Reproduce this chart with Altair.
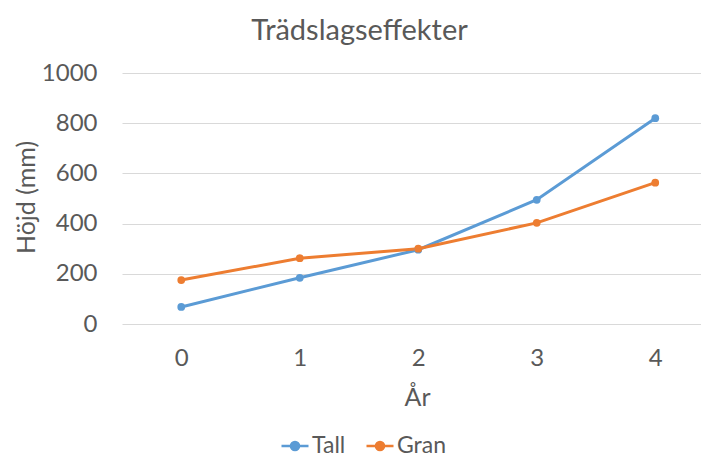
import altair as alt
import pandas as pd

years = [0, 1, 2, 3, 4]
series_names = ["Tall", "Gran"]
tall = [68, 184, 296, 495, 820]
gran = [175, 262, 300, 403, 563]
colors = ["#5B9BD5", "#ED7D31"]
y_ticks = [0, 200, 400, 600, 800, 1000]

rows = []
for name, vals in zip(series_names, [tall, gran]):
    for yr, v in zip(years, vals):
        rows.append({"År": yr, "Höjd": v, "Serie": name})
df = pd.DataFrame(rows)

FONT = "Lato"
GREY = "#595959"
sym_path = "M-1,0H1M-0.3,0A0.3,0.3,0,1,1,0.3,0A0.3,0.3,0,1,1,-0.3,0Z"

color = alt.Color(
    "Serie:N",
    scale=alt.Scale(domain=series_names, range=colors),
    sort=series_names,
    legend=alt.Legend(
        title=None,
        orient="none",
        direction="horizontal",
        legendX=158,
        legendY=358,
        symbolType=sym_path,
        symbolSize=729,
        symbolStrokeWidth=2.5,
        labelFont=FONT,
        labelFontSize=23,
        labelColor=GREY,
        labelOffset=2,
        columnPadding=15,
    ),
)

x = alt.X(
    "År:Q",
    scale=alt.Scale(domain=[-0.5, 4.386], nice=False, zero=False),
    axis=alt.Axis(
        values=years,
        format="d",
        grid=False,
        domain=False,
        ticks=False,
        labelFont=FONT,
        labelFontSize=24,
        labelColor=GREY,
        labelBaseline="middle",
        labelPadding=34,
        title="År",
        titleFont=FONT,
        titleFontSize=25,
        titleFontWeight="normal",
        titleColor=GREY,
        titleX=295,
        titleY=81,
        titleBaseline="alphabetic",
    ),
)

y = alt.Y(
    "Höjd:Q",
    scale=alt.Scale(domain=[0, 1000], nice=False),
    axis=alt.Axis(
        values=y_ticks,
        format="d",
        grid=True,
        gridColor="#D9D9D9",
        gridWidth=1,
        domain=False,
        ticks=False,
        labelFont=FONT,
        labelFontSize=24,
        labelColor=GREY,
        labelPadding=25,
        title="Höjd (mm)",
        titleFont=FONT,
        titleFontSize=25,
        titleFontWeight="normal",
        titleColor=GREY,
        titleAngle=-90,
        titleX=-96,
        titleY=124,
        titleBaseline="middle",
        titleAlign="center",
    ),
)

chart = (
    alt.Chart(df)
    .mark_line(strokeWidth=3, point=alt.OverlayMarkDef(filled=True, size=60))
    .encode(x=x, y=y, color=color)
    .properties(
        width=579,
        height=251,
        title=alt.TitleParams(
            "Trädslagseffekter",
            font=FONT,
            fontSize=29,
            fontWeight="normal",
            color=GREY,
            anchor="middle",
            frame="group",
            dx=-52,
            dy=38,
            offset=30,
            baseline="alphabetic",
        ),
        autosize=alt.AutoSizeParams(type="none"),
        padding={"left": 114, "top": 65, "right": 0, "bottom": 133},
    )
    .configure_view(stroke=None)
)

chart.save("out.html", embed_options={"renderer": "svg", "actions": False})
